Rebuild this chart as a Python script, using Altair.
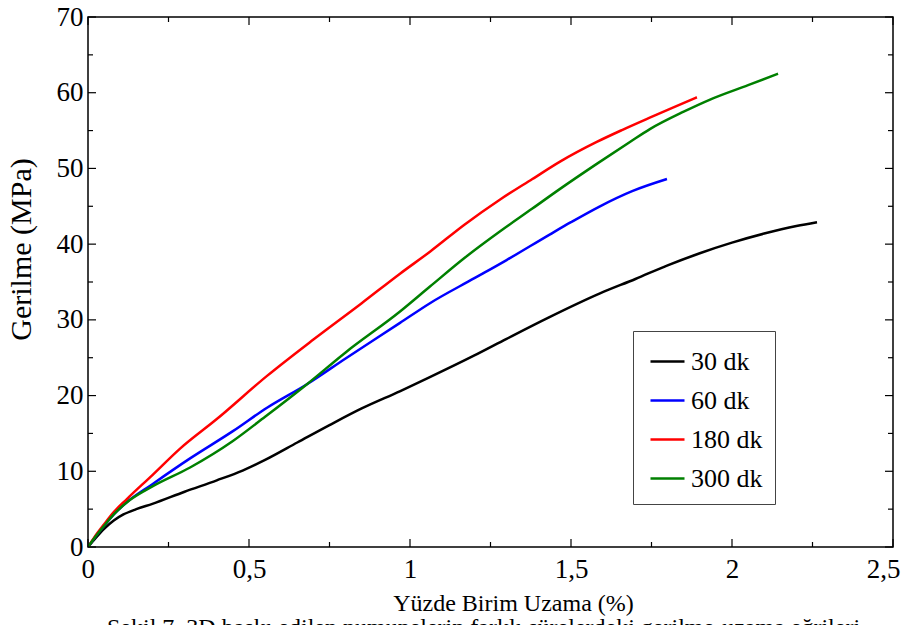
import altair as alt
import pandas as pd

# ---- data ----
x30 = [0, 0.02, 0.05, 0.08, 0.11, 0.15, 0.2, 0.3, 0.4, 0.48, 0.55, 0.65, 0.75, 0.85, 0.97, 1.06, 1.2, 1.3, 1.43, 1.59, 1.7, 1.8, 1.9, 2.0, 2.1, 2.2, 2.264]
y30 = [0, 1.0, 2.4, 3.5, 4.3, 5.0, 5.7, 7.3, 8.8, 10.1, 11.5, 13.8, 16.1, 18.3, 20.6, 22.4, 25.3, 27.5, 30.3, 33.5, 35.4, 37.2, 38.8, 40.2, 41.4, 42.4, 42.9]

x60 = [0, 0.02, 0.05, 0.08, 0.12, 0.2, 0.317, 0.45, 0.556, 0.68, 0.8, 0.969, 1.062, 1.2, 1.3, 1.435, 1.5, 1.59, 1.69, 1.798]
y60 = [0, 1.2, 2.8, 4.3, 5.9, 8.3, 11.7, 15.3, 18.4, 21.5, 24.9, 29.6, 32.2, 35.5, 37.9, 41.3, 42.9, 45.0, 47.0, 48.6]

x180 = [0, 0.02, 0.05, 0.08, 0.12, 0.2, 0.286, 0.4, 0.556, 0.7, 0.85, 0.969, 1.062, 1.17, 1.28, 1.38, 1.466, 1.58, 1.66, 1.75, 1.82, 1.891]
y180 = [0, 1.3, 3.0, 4.6, 6.3, 9.5, 13.0, 16.9, 22.6, 27.4, 32.2, 36.1, 39.0, 42.6, 45.9, 48.6, 50.9, 53.5, 55.1, 56.8, 58.1, 59.4]

x300 = [0, 0.02, 0.05, 0.08, 0.13, 0.2, 0.317, 0.45, 0.55, 0.68, 0.8, 0.969, 1.062, 1.17, 1.28, 1.38, 1.466, 1.58, 1.683, 1.745, 1.85, 1.932, 2.05, 2.143]
y300 = [0, 1.2, 2.8, 4.3, 6.2, 8.0, 10.5, 14.0, 17.2, 21.5, 25.7, 31.1, 34.4, 38.2, 41.7, 44.7, 47.3, 50.6, 53.5, 55.2, 57.5, 59.1, 61.0, 62.5]

series_names = ["30 dk", "60 dk", "180 dk", "300 dk"]
series_colors = ["#000000", "#0000ff", "#ff0000", "#008000"]

x_major = [0, 0.5, 1, 1.5, 2, 2.5]
x_minor = [0.25, 0.75, 1.25, 1.75, 2.25]
y_major = [0, 10, 20, 30, 40, 50, 60, 70]
y_minor = [5, 15, 25, 35, 45, 55, 65]

x_title = "Yüzde Birim Uzama (%)"
y_title = "Gerilme (MPa)"
caption = "Şekil 7. 3D baskı edilen numunelerin farklı sürelerdeki gerilme-uzama eğrileri"

# ---- build tables ----
rows = []
for name, xs, ys in zip(series_names, [x30, x60, x180, x300], [y30, y60, y180, y300]):
    for i, (a, b) in enumerate(zip(xs, ys)):
        rows.append({"series": name, "x": a, "y": b, "order": i})
df = pd.DataFrame(rows)

W, H = 805, 530
FONT = "Liberation Serif, Times New Roman, serif"

xscale = alt.Scale(domain=[0, 2.5], nice=False, zero=False)
yscale = alt.Scale(domain=[0, 70], nice=False, zero=False)

lines = alt.Chart(df).mark_line(strokeWidth=2.5, clip=True, interpolate="monotone").encode(
    x=alt.X("x:Q", scale=xscale,
            axis=alt.Axis(title=x_title, values=x_major, ticks=False, domain=False, grid=False,
                          labelExpr="replace(format(datum.value, '~g'), '.', ',')",
                          labelFont=FONT, labelFontSize=27, labelPadding=9, labelColor="black",
                          labelFlush=True, labelFlushOffset=7,
                          titleFont=FONT, titleFontSize=24, titleFontWeight="normal",
                          titleX=425, titleY=44, titleBaseline="top",
                          titleColor="black")),
    y=alt.Y("y:Q", scale=yscale,
            axis=alt.Axis(title=y_title, values=y_major, ticks=False, domain=False, grid=False,
                          labelFont=FONT, labelFontSize=27, labelPadding=5, labelColor="black",
                          labelFlush=False,
                          titleFont=FONT, titleFontSize=30, titleFontWeight="normal",
                          titleX=-52, titleY=232, titleColor="black")),
    color=alt.Color("series:N", scale=alt.Scale(domain=series_names, range=series_colors),
                    legend=alt.Legend(title=None, orient="none", legendX=545, legendY=314,
                                      strokeColor="#444444", fillColor="white", padding=12,
                                      symbolType="stroke", symbolSize=1156, symbolStrokeWidth=2.5,
                                      symbolOffset=4,
                                      labelFont=FONT, labelFontSize=26, labelColor="black",
                                      labelOffset=5, rowPadding=7)),
    order="order:Q",
)

def xticks(vals, y0, y1):
    return alt.Chart(pd.DataFrame({"v": vals})).mark_rule(color="black", strokeWidth=1.2).encode(
        x=alt.X("v:Q", scale=xscale), y=alt.value(y0), y2=alt.value(y1))

def yticks(vals, x0, x1):
    return alt.Chart(pd.DataFrame({"v": vals})).mark_rule(color="black", strokeWidth=1.2).encode(
        y=alt.Y("v:Q", scale=yscale), x=alt.value(x0), x2=alt.value(x1))

ticks = [
    xticks(x_major, H, H - 8), xticks(x_minor, H, H - 5),
    xticks(x_major, 0, 8), xticks(x_minor, 0, 5),
    yticks(y_major, 0, 8), yticks(y_minor, 0, 5),
    yticks(y_major, W, W - 8), yticks(y_minor, W, W - 5),
]

cap = alt.Chart(pd.DataFrame({"t": [caption]})).mark_text(
    font=FONT, fontSize=24, align="left", baseline="alphabetic", color="black", clip=False
).encode(text="t:N", x=alt.value(19), y=alt.value(618))

chart = alt.layer(lines, *ticks, cap).properties(
    width=W, height=H,
    background="white",
    autosize=alt.AutoSizeParams(type="none"),
    padding={"left": 80, "top": 9, "right": 10, "bottom": 78},
).configure_view(stroke="black", strokeWidth=1.5)

chart.save("out.html", embed_options={"renderer": "svg", "actions": False})
